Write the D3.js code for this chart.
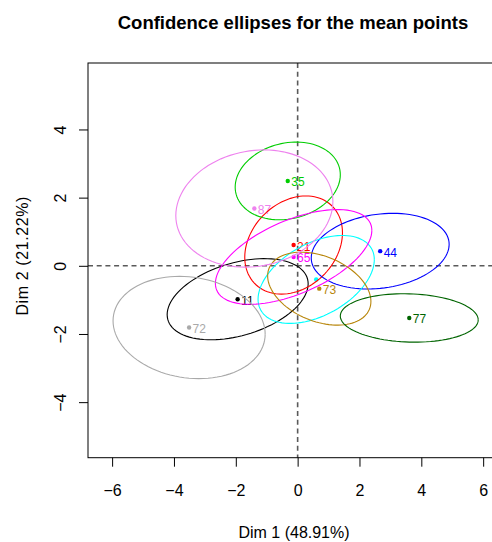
<!DOCTYPE html>
<html>
<head>
<meta charset="utf-8">
<script src="https://cdn.jsdelivr.net/npm/d3@7"></script>
<style>
  body { margin: 0; background: #fff; }
  svg { display: block; font-family: "Liberation Sans", Arial, sans-serif; }
</style>
</head>
<body>
<script>
// mean points (Dim 1, Dim 2) and their confidence ellipses
const labels = ['11', '21', '35', '44', '', '65', '72', '73', '77', '87'];
const colors = ['black', '#FF0000', '#00CD00', '#0000FF', '#00FFFF', '#FF00FF',
                '#A9A9A9', '#B8860B', '#006400', '#EE82EE'];
const meanX = [-1.94, -0.13, -0.32, 2.67, 0.60, -0.13, -3.51, 0.70, 3.61, -1.40];
const meanY = [-0.98, 0.61, 2.49, 0.43, -0.40, 0.26, -1.81, -0.67, -1.53, 1.68];
// half-widths along each dimension and tilt (correlation) of each ellipse
const halfX = [2.28, 1.58, 1.70, 2.23, 1.88, 2.53, 2.46, 1.67, 2.23, 2.54];
const halfY = [1.19, 1.44, 1.14, 1.11, 1.29, 1.39, 1.50, 1.07, 0.71, 1.72];
const tilt  = [0.38, 0.25, 0.16, 0.18, 0.45, 0.56, -0.13, -0.35, -0.08, 0.12];

const xTicks = [-6, -4, -2, 0, 2, 4, 6];
const yTicks = [-4, -2, 0, 2, 4];
const xlim = [-6.78, 6.78];
const ylim = [-5.63, 5.95];

const W = 492, H = 542;
const mLeft = 88, mTop = 63, mBottom = 457.7;
const ux = 30.92;

const svg = d3.select(document.body).append('svg')
  .attr('width', W).attr('height', H);

const x = d3.scaleLinear().domain(xlim)
  .range([mLeft, mLeft + (xlim[1] - xlim[0]) * ux]);
const y = d3.scaleLinear().domain(ylim).range([mBottom, mTop]);

// title
svg.append('text')
  .attr('x', 293).attr('y', 28.5)
  .attr('text-anchor', 'middle')
  .style('font-weight', 'bold').style('font-size', '18.5px')
  .text('Confidence ellipses for the mean points');

// dashed zero lines
svg.append('line')
  .attr('x1', x(0)).attr('x2', x(0)).attr('y1', y(ylim[1])).attr('y2', y(ylim[0]))
  .attr('stroke', '#5a5a5a').attr('stroke-width', 1.6).attr('stroke-dasharray', '5,3.7');
svg.append('line')
  .attr('x1', x(xlim[0])).attr('x2', x(xlim[1])).attr('y1', y(0)).attr('y2', y(0))
  .attr('stroke', '#5a5a5a').attr('stroke-width', 1.6).attr('stroke-dasharray', '5,3.7');

// axes
const xAxis = svg.append('g')
  .attr('transform', `translate(0,${mBottom})`)
  .call(d3.axisBottom(x).tickValues(xTicks).tickSize(9).tickPadding(17.5).tickFormat(d3.format('d')));
const yAxis = svg.append('g')
  .attr('transform', `translate(${mLeft},0)`)
  .call(d3.axisLeft(y).tickValues(yTicks).tickSize(9).tickFormat(d3.format('d')));
[xAxis, yAxis].forEach(a => {
  a.select('.domain').remove();
  a.selectAll('line').attr('stroke', 'black');
  a.selectAll('text').style('font-size', '16px').attr('fill', 'black')
    .style('font-family', '"Liberation Sans", Arial, sans-serif');
});
yAxis.selectAll('.tick text')
  .attr('x', 0).attr('y', 0).attr('dy', null)
  .attr('text-anchor', 'middle')
  .attr('transform', 'translate(-28,0) rotate(-90) translate(0,5.5)');

// box
svg.append('rect')
  .attr('x', mLeft).attr('y', mTop)
  .attr('width', x(xlim[1]) - mLeft).attr('height', mBottom - mTop)
  .attr('fill', 'none').attr('stroke', 'black');

// axis titles
svg.append('text')
  .attr('x', 294).attr('y', 538)
  .attr('text-anchor', 'middle').style('font-size', '16px')
  .text('Dim 1 (48.91%)');
svg.append('text')
  .attr('transform', `translate(28,${y(0) - 10}) rotate(-90)`)
  .attr('text-anchor', 'middle').style('font-size', '16px')
  .attr('letter-spacing', '0.6px')
  .text('Dim 2 (21.22%)');

const idx = d3.range(labels.length);

// mean points and labels
svg.selectAll('circle.pt').data(idx).enter().append('circle')
  .attr('class', 'pt')
  .attr('cx', i => x(meanX[i])).attr('cy', i => y(meanY[i]))
  .attr('r', 2.2).attr('fill', i => colors[i]);
svg.selectAll('text.lab').data(idx).enter().append('text')
  .attr('class', 'lab')
  .attr('x', i => x(meanX[i]) + 3.5).attr('y', i => y(meanY[i]) + 5.5)
  .style('font-size', '12px').attr('fill', i => colors[i])
  .text(i => labels[i]);

// ellipses
const line = d3.line().x(d => x(d[0])).y(d => y(d[1]));
const angles = d3.range(0, 101).map(k => k / 100 * 2 * Math.PI);
svg.selectAll('path.ell').data(idx).enter().append('path')
  .attr('class', 'ell')
  .attr('d', i => line(angles.map(t => [
    meanX[i] + halfX[i] * Math.cos(t),
    meanY[i] + halfY[i] * (tilt[i] * Math.cos(t) + Math.sqrt(1 - tilt[i] * tilt[i]) * Math.sin(t))
  ])))
  .attr('fill', 'none').attr('stroke', i => colors[i]).attr('stroke-width', 1.1);
</script>
</body>
</html>
